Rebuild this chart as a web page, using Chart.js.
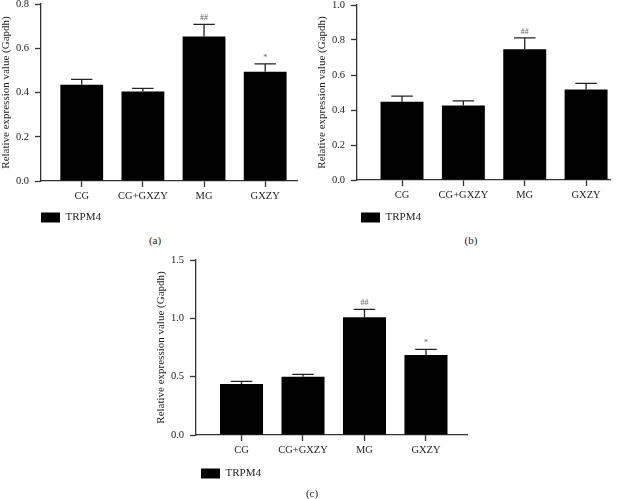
<!DOCTYPE html>
<html>
<head>
<meta charset="utf-8">
<script src="https://cdn.jsdelivr.net/npm/chart.js@4.4.1/dist/chart.umd.min.js"></script>
<style>
  body { margin: 0; background: #fff; width: 628px; height: 499px; position: relative; overflow: hidden; font-family: "Liberation Serif", serif; }
  canvas { position: absolute; }
  .lbl { position: absolute; font-size: 11px; color: #222; transform: translate(-50%, -50%); }
</style>
</head>
<body>
<canvas id="chartA" width="300" height="233" style="left:0;top:0"></canvas>
<canvas id="chartB" width="300" height="233" style="left:316px;top:0"></canvas>
<canvas id="chartC" width="315" height="234" style="left:155px;top:255px"></canvas>
<div class="lbl" style="left:155px;top:240px">(a)</div>
<div class="lbl" style="left:471px;top:240px">(b)</div>
<div class="lbl" style="left:312px;top:493px">(c)</div>
<script>
// groups on the x axis
const categories = ['CG', 'CG+GXZY', 'MG', 'GXZY'];
const seriesName = 'TRPM4';

// panel (a)
const valuesA = [0.435, 0.404, 0.653, 0.494];
const errorsA = [0.024, 0.015, 0.055, 0.035];
const marksA = ['', '', '##', '*'];

// panel (b)
const valuesB = [0.447, 0.426, 0.747, 0.517];
const errorsB = [0.032, 0.026, 0.065, 0.035];
const marksB = ['', '', '##', ''];

// panel (c)
const valuesC = [0.437, 0.500, 1.009, 0.686];
const errorsC = [0.023, 0.020, 0.068, 0.048];
const marksC = ['', '', '##', '*'];

// y axis ranges
const yMaxA = 0.8, yStepA = 0.2;
const yMaxB = 1.0, yStepB = 0.2;
const yMaxC = 1.5, yStepC = 0.5;

const axisColor = '#333';
const serif = '"Liberation Serif", "Times New Roman", serif';

// error bars (upper only) and significance marks
const errorBars = {
  id: 'errorBars',
  afterDatasetsDraw(chart) {
    const { ctx, scales: { y } } = chart;
    const ds = chart.data.datasets[0];
    const meta = chart.getDatasetMeta(0);
    ctx.save();
    ctx.strokeStyle = '#222';
    ctx.lineWidth = 1.3;
    meta.data.forEach((bar, i) => {
      const top = y.getPixelForValue(ds.data[i].y + ds.errors[i]);
      const half = bar.width / 4;
      ctx.beginPath();
      ctx.moveTo(bar.x, bar.y);
      ctx.lineTo(bar.x, top);
      ctx.moveTo(bar.x - half, top);
      ctx.lineTo(bar.x + half, top);
      ctx.stroke();
      if (ds.marks[i]) {
        ctx.fillStyle = '#666';
        ctx.font = '8px ' + serif;
        ctx.textAlign = 'center';
        ctx.textBaseline = 'middle';
        ctx.fillText(ds.marks[i], bar.x, top - 6);
      }
    });
    ctx.restore();
  }
};

function makeChart(id, values, errors, marks, yMax, yStep, xMin, xMax, pad, xAxisH, legendPad) {
  return new Chart(document.getElementById(id), {
    type: 'bar',
    data: {
      datasets: [{
        label: seriesName,
        data: categories.map((c, i) => ({ x: i + 1, y: values[i] })),
        errors: errors,
        marks: marks,
        backgroundColor: '#000',
        borderWidth: 0,
        barPercentage: 0.7,
        categoryPercentage: 1.0
      }]
    },
    options: {
      responsive: false,
      animation: false,
      layout: { padding: pad },
      plugins: {
        tooltip: { enabled: false },
        legend: {
          position: 'bottom',
          align: 'start',
          fullSize: false,
          labels: {
            boxWidth: 19,
            boxHeight: 10,
            padding: legendPad,
            color: '#222',
            font: { family: serif, size: 11 }
          }
        }
      },
      scales: {
        x: {
          type: 'linear',
          offset: false,
          min: xMin,
          max: xMax,
          afterBuildTicks: s => { s.ticks = categories.map((c, i) => ({ value: i + 1 })); },
          afterFit: s => { s.height = xAxisH; s.paddingLeft = 0; s.paddingRight = 0; },
          grid: { offset: false, drawOnChartArea: false, tickLength: 6, tickColor: axisColor, color: axisColor, tickWidth: 1.3 },
          border: { color: axisColor, width: 1.3 },
          ticks: {
            color: '#222', padding: 3, maxRotation: 0, autoSkip: false,
            font: { family: serif, size: 10.5 },
            callback: v => categories[Math.round(v) - 1]
          }
        },
        y: {
          min: 0,
          max: yMax,
          afterFit: s => { s.width = 41; s.paddingTop = 0; s.paddingBottom = 0; },
          grid: { drawOnChartArea: false, tickLength: 6, tickColor: axisColor, color: axisColor, tickWidth: 1.3 },
          border: { color: axisColor, width: 1.3 },
          ticks: {
            stepSize: yStep,
            color: '#222',
            padding: 6,
            font: { family: serif, size: 10.5 },
            callback: v => v.toFixed(1)
          },
          title: {
            display: true,
            text: 'Relative expression value (Gapdh)',
            color: '#222',
            padding: { top: 0, bottom: 0 },
            font: { family: serif, size: 11 }
          }
        }
      }
    },
    plugins: [errorBars]
  });
}

makeChart('chartA', valuesA, errorsA, marksA, yMaxA, yStepA, 0.334, 4.52, { left: 0, right: 3, top: 4, bottom: 0 }, 31, 0);
makeChart('chartB', valuesB, errorsB, marksB, yMaxB, yStepB, 0.266, 4.39, { left: 0, right: 6, top: 5, bottom: 0 }, 28, 4);
makeChart('chartC', valuesC, errorsC, marksC, yMaxC, yStepC, 0.26, 4.667, { left: 0, right: 3, top: 5, bottom: 0 }, 28, 5);
</script>
</body>
</html>
